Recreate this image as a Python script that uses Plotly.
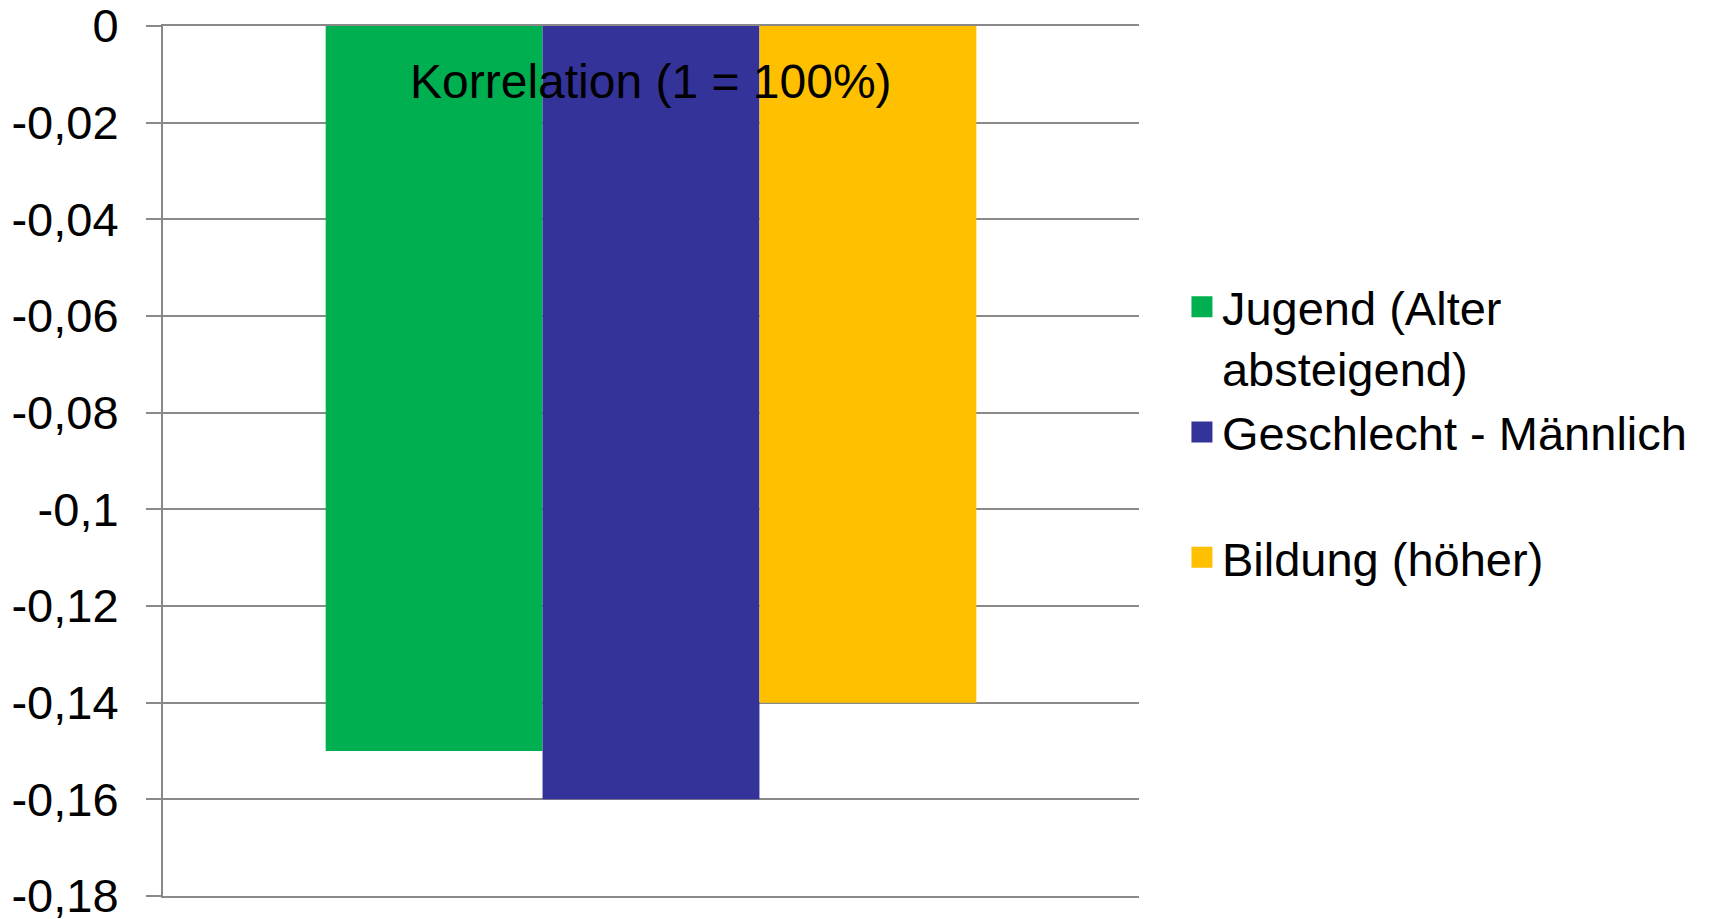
import plotly.graph_objects as go

category = ["Korrelation (1 = 100%)"]
series_names = ["Jugend (Alter<br>absteigend)", "Geschlecht - Männlich<br> ", "Bildung (höher)"]
series_values = [-0.15, -0.16, -0.14]
series_colors = ["#00B050", "#333399", "#FFC000"]
tick_values = [0, -0.02, -0.04, -0.06, -0.08, -0.1, -0.12, -0.14, -0.16, -0.18]
tick_labels = ["0", "-0,02", "-0,04", "-0,06", "-0,08", "-0,1", "-0,12", "-0,14", "-0,16", "-0,18"]

FONT = "Arial, Liberation Sans, sans-serif"
GRID = "#898989"

fig = go.Figure()
for name, val, col in zip(series_names, series_values, series_colors):
    fig.add_trace(go.Bar(x=category, y=[val], name=name, marker=dict(color=col, line=dict(width=0)),
                         showlegend=False))
# legend entries (square swatches)
for name, col in zip(series_names, series_colors):
    fig.add_trace(go.Scatter(x=[None], y=[None], mode="markers", name=name,
                             marker=dict(symbol="square", size=16, color=col,
                                         line=dict(color=col, width=5))))

fig.add_annotation(x=category[0], y=0, xref="x", yref="y", text=category[0], showarrow=False,
                   yanchor="middle", yshift=-55, font=dict(family=FONT, size=48, color="black"))

fig.update_layout(
    width=1703, height=911,
    margin=dict(l=155, r=572, t=18, b=23),
    paper_bgcolor="white", plot_bgcolor="white",
    barmode="group", bargap=1/3, bargroupgap=0,
    font=dict(family=FONT, size=47, color="black"),
    legend=dict(x=1.044, y=0.533, xanchor="left", yanchor="middle", valign="top",
                font=dict(family=FONT, size=47, color="black"), tracegroupgap=0,
                bgcolor="rgba(0,0,0,0)"),
    xaxis=dict(side="top", showline=True, mirror=True, linecolor=GRID, linewidth=2,
               ticks="inside", tickson="boundaries", ticklen=14, tickwidth=2, tickcolor=GRID,
               showticklabels=False, showgrid=False, zeroline=False, fixedrange=True,
               automargin=False),
    yaxis=dict(range=[-0.18, 0], tickvals=tick_values, ticktext=tick_labels, showline=True,
               linecolor=GRID, linewidth=2, ticks="outside", ticklen=15, tickwidth=2,
               tickcolor=GRID, showgrid=True, gridcolor=GRID, gridwidth=2, zeroline=False,
               automargin=False, ticklabeloverflow="allow",
               ticklabelstandoff=18, tickfont=dict(family=FONT, size=47, color="black")),
)

fig.write_html("out.html")
